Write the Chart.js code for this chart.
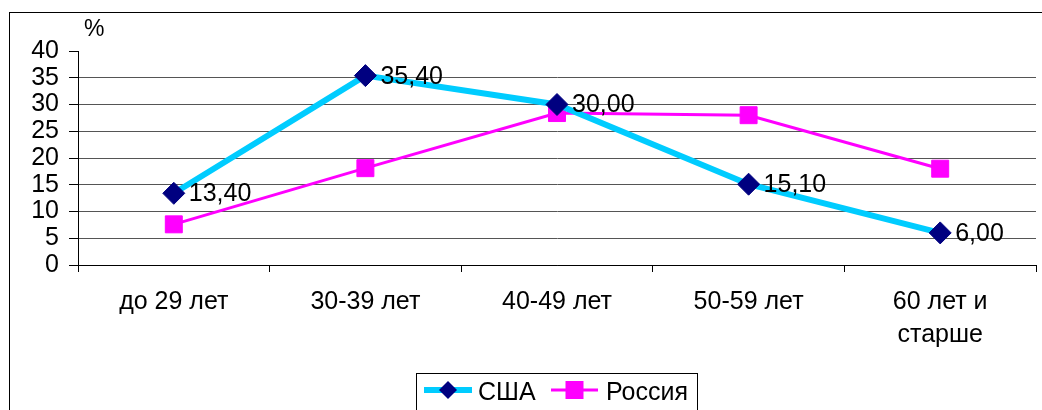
<!DOCTYPE html>
<html>
<head>
<meta charset="utf-8">
<script src="https://cdn.jsdelivr.net/npm/chart.js@4"></script>
<style>
  html, body { margin: 0; padding: 0; background: #fff; }
  #wrap { position: relative; width: 1042px; height: 410px; overflow: hidden; }
</style>
</head>
<body>
<div id="wrap"><canvas id="ageChart" width="1042" height="410"></canvas></div>
<script>
// --- Data ---
const categories = ['до 29 лет', '30-39 лет', '40-49 лет', '50-59 лет', ['60 лет и', 'старше']];
const usaValues = [13.4, 35.4, 30.0, 15.1, 6.0];
const russiaValues = [7.6, 18.1, 28.4, 28.0, 18.0];
const yTicks = [0, 5, 10, 15, 20, 25, 30, 35, 40];

const FONT = 'Liberation Sans, Arial, sans-serif';
const FS = 25;

// frame, "%" label, value labels and boxed legend
const decorations = {
  id: 'decorations',
  beforeDraw(chart) {
    const c = chart.ctx;
    c.save();
    c.strokeStyle = '#000';
    c.lineWidth = 1;
    c.strokeRect(9.5, 12.5, 1200, 600);
    c.restore();
  },
  afterDatasetsDraw(chart) {
    const c = chart.ctx;
    c.save();
    c.font = FS + 'px ' + FONT;
    c.fillStyle = '#000';
    c.textBaseline = 'middle';
    c.textAlign = 'left';
    // USA value labels
    chart.getDatasetMeta(0).data.forEach((pt, i) => {
      c.fillText(usaValues[i].toFixed(2).replace('.', ','), pt.x + 15, pt.y + 1);
    });
    // axis unit
    c.font = '23px ' + FONT;
    c.fillText('%', chart.chartArea.left + 6, 30);

    // legend
    c.font = FS + 'px ' + FONT;
    c.strokeStyle = '#000';
    c.lineWidth = 1;
    c.strokeRect(416.5, 373.5, 281, 60);
    const cy = 390;
    const entries = [
      { ds: chart.data.datasets[0], x0: 424, x1: 472, tx: 478 },
      { ds: chart.data.datasets[1], x0: 551, x1: 598, tx: 606 }
    ];
    entries.forEach(e => {
      c.strokeStyle = e.ds.borderColor;
      c.lineWidth = e.ds.borderWidth;
      c.beginPath();
      c.moveTo(e.x0, cy);
      c.lineTo(e.x1, cy);
      c.stroke();
      const mx = (e.x0 + e.x1) / 2;
      c.fillStyle = e.ds.pointBackgroundColor;
      c.beginPath();
      if (e.ds.pointStyle === 'rectRot') {
        const r = 9;
        c.moveTo(mx, cy - r);
        c.lineTo(mx + r, cy);
        c.lineTo(mx, cy + r);
        c.lineTo(mx - r, cy);
        c.closePath();
      } else {
        c.rect(mx - 9, cy - 9, 18, 18);
      }
      c.fill();
      c.fillStyle = '#000';
      c.fillText(e.ds.label, e.tx, cy + 3);
    });
    c.restore();
  }
};

new Chart(document.getElementById('ageChart'), {
  type: 'line',
  data: {
    labels: categories,
    datasets: [
      {
        label: 'США',
        data: usaValues,
        borderColor: '#00CCFF',
        borderWidth: 6,
        pointStyle: 'rectRot',
        pointRadius: 11,
        pointHoverRadius: 11,
        pointBackgroundColor: '#000080',
        pointBorderColor: '#000080',
        pointBorderWidth: 1,
        tension: 0,
        clip: false
      },
      {
        label: 'Россия',
        data: russiaValues,
        borderColor: '#FF00FF',
        borderWidth: 3,
        pointStyle: 'rect',
        pointRadius: 12,
        pointHoverRadius: 12,
        pointBackgroundColor: '#FF00FF',
        pointBorderColor: '#FF00FF',
        pointBorderWidth: 1,
        tension: 0,
        clip: false
      }
    ]
  },
  options: {
    responsive: false,
    animation: false,
    devicePixelRatio: 1,
    layout: { autoPadding: false, padding: { top: 51, right: 6, left: 0, bottom: 0 } },
    plugins: {
      legend: { display: false },
      tooltip: { enabled: false }
    },
    scales: {
      x: {
        offset: true,
        grid: {
          offset: true,
          drawOnChartArea: false,
          drawTicks: true,
          tickLength: 7,
          tickColor: '#000'
        },
        border: { color: '#000', width: 1 },
        ticks: {
          color: '#000',
          padding: 14,
          maxRotation: 0,
          autoSkip: false,
          font: { family: FONT, size: FS, lineHeight: 1.32 }
        },
        afterFit(scale) {
          scale.height = 145;
          scale.paddingLeft = 0;
          scale.paddingRight = 0;
        }
      },
      y: {
        min: 0,
        max: 40,
        afterBuildTicks(scale) { scale.ticks = yTicks.map(v => ({ value: v })); },
        grid: {
          color: ctx => (ctx.tick && ctx.tick.value === 40) ? 'rgba(0,0,0,0)' : (ctx.tick && ctx.tick.value === 0 ? '#000' : '#555'),
          tickColor: '#000',
          tickLength: 9,
          lineWidth: 1
        },
        border: { color: '#000', width: 1 },
        ticks: {
          color: '#000',
          padding: 10,
          autoSkip: false,
          font: { family: FONT, size: FS }
        },
        afterFit(scale) {
          scale.width = 78;
          scale.paddingTop = 0;
          scale.paddingBottom = 0;
        }
      }
    }
  },
  plugins: [decorations]
});
</script>
</body>
</html>
